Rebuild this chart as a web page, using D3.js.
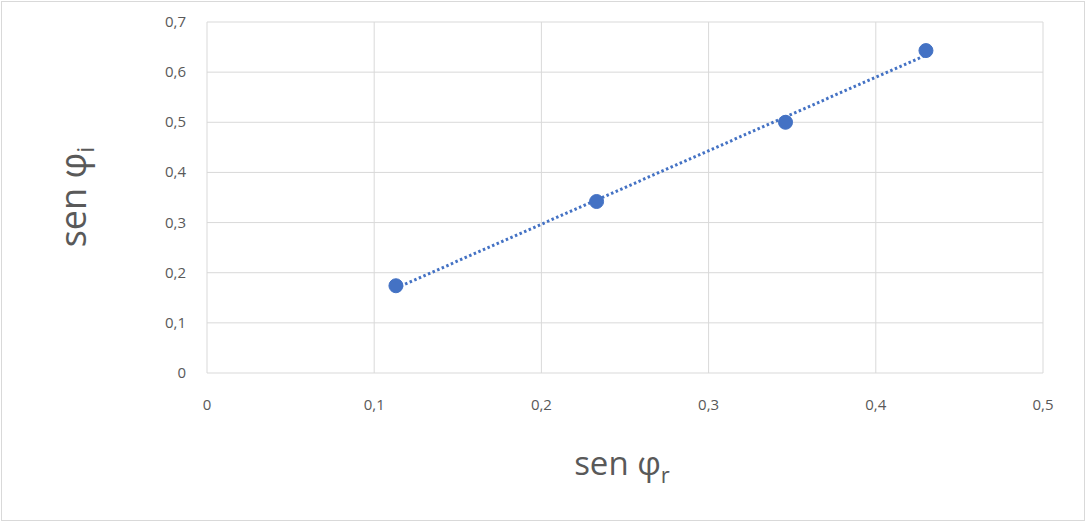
<!DOCTYPE html><html><head><meta charset="utf-8"><script src="https://d3js.org/d3.v7.min.js"></script>
<style>body{margin:0;background:#fff}text{font-family:"Open Sans",sans-serif}</style></head><body>
<svg id="c" width="1087" height="523"></svg>
<script>
const xValues=[0.113,0.233,0.346,0.430];
const yValues=[0.174,0.342,0.500,0.643];
const xTicks=[0,0.1,0.2,0.3,0.4,0.5];
const yTicks=[0,0.1,0.2,0.3,0.4,0.5,0.6,0.7];
const svg=d3.select("#c");
svg.append("rect").attr("x",1.5).attr("y",1.5).attr("width",1083).attr("height",519).attr("fill","#fff").attr("stroke","#d9d9d9");
const x=d3.scaleLinear().domain([0,0.5]).range([207,1043]);
const y=d3.scaleLinear().domain([0,0.7]).range([373,22]);
const fmt=d=>d===0?"0":String(d).replace(".",",");
svg.append("g").selectAll("line").data(xTicks).join("line").attr("x1",d=>x(d)).attr("x2",d=>x(d)).attr("y1",y(0)).attr("y2",y(0.7)).attr("stroke","#d9d9d9");
svg.append("g").selectAll("line").data(yTicks).join("line").attr("y1",d=>y(d)).attr("y2",d=>y(d)).attr("x1",x(0)).attr("x2",x(0.5)).attr("stroke","#d9d9d9");
svg.append("g").selectAll("text").data(xTicks).join("text").attr("x",d=>x(d)).attr("y",410).attr("text-anchor","middle").attr("font-size",15).attr("fill","#595959").text(fmt);
svg.append("g").selectAll("text").data(yTicks).join("text").attr("x",186).attr("y",d=>y(d)+5).attr("text-anchor","end").attr("font-size",15).attr("fill","#595959").text(fmt);
const mx=d3.mean(xValues),my=d3.mean(yValues);
const b=d3.sum(xValues.map((v,i)=>(v-mx)*(yValues[i]-my)))/d3.sum(xValues.map(v=>(v-mx)**2));
const a=my-b*mx;
const x0=d3.min(xValues),x1=d3.max(xValues);
svg.append("line").attr("x1",x(x0)).attr("y1",y(a+b*x0)).attr("x2",x(x1)).attr("y2",y(a+b*x1)).attr("stroke","#4472c4").attr("stroke-width",3).attr("stroke-dasharray","2.5,2.5");
svg.append("g").selectAll("circle").data(xValues).join("circle").attr("cx",d=>x(d)).attr("cy",(d,i)=>y(yValues[i])).attr("r",7).attr("fill","#4472c4").attr("stroke","#4472c4");
const yt=svg.append("text").attr("transform","translate(86,197) rotate(-90)").attr("text-anchor","middle").attr("font-size",36).attr("fill","#595959");
yt.append("tspan").text("sen φ");yt.append("tspan").attr("font-size",24).attr("dy",8).text("i");
const xt=svg.append("text").attr("x",622).attr("y",475).attr("text-anchor","middle").attr("font-size",33).attr("fill","#595959");
xt.append("tspan").text("sen φ");xt.append("tspan").attr("font-size",22).attr("dy",8).text("r");
</script></body></html>
